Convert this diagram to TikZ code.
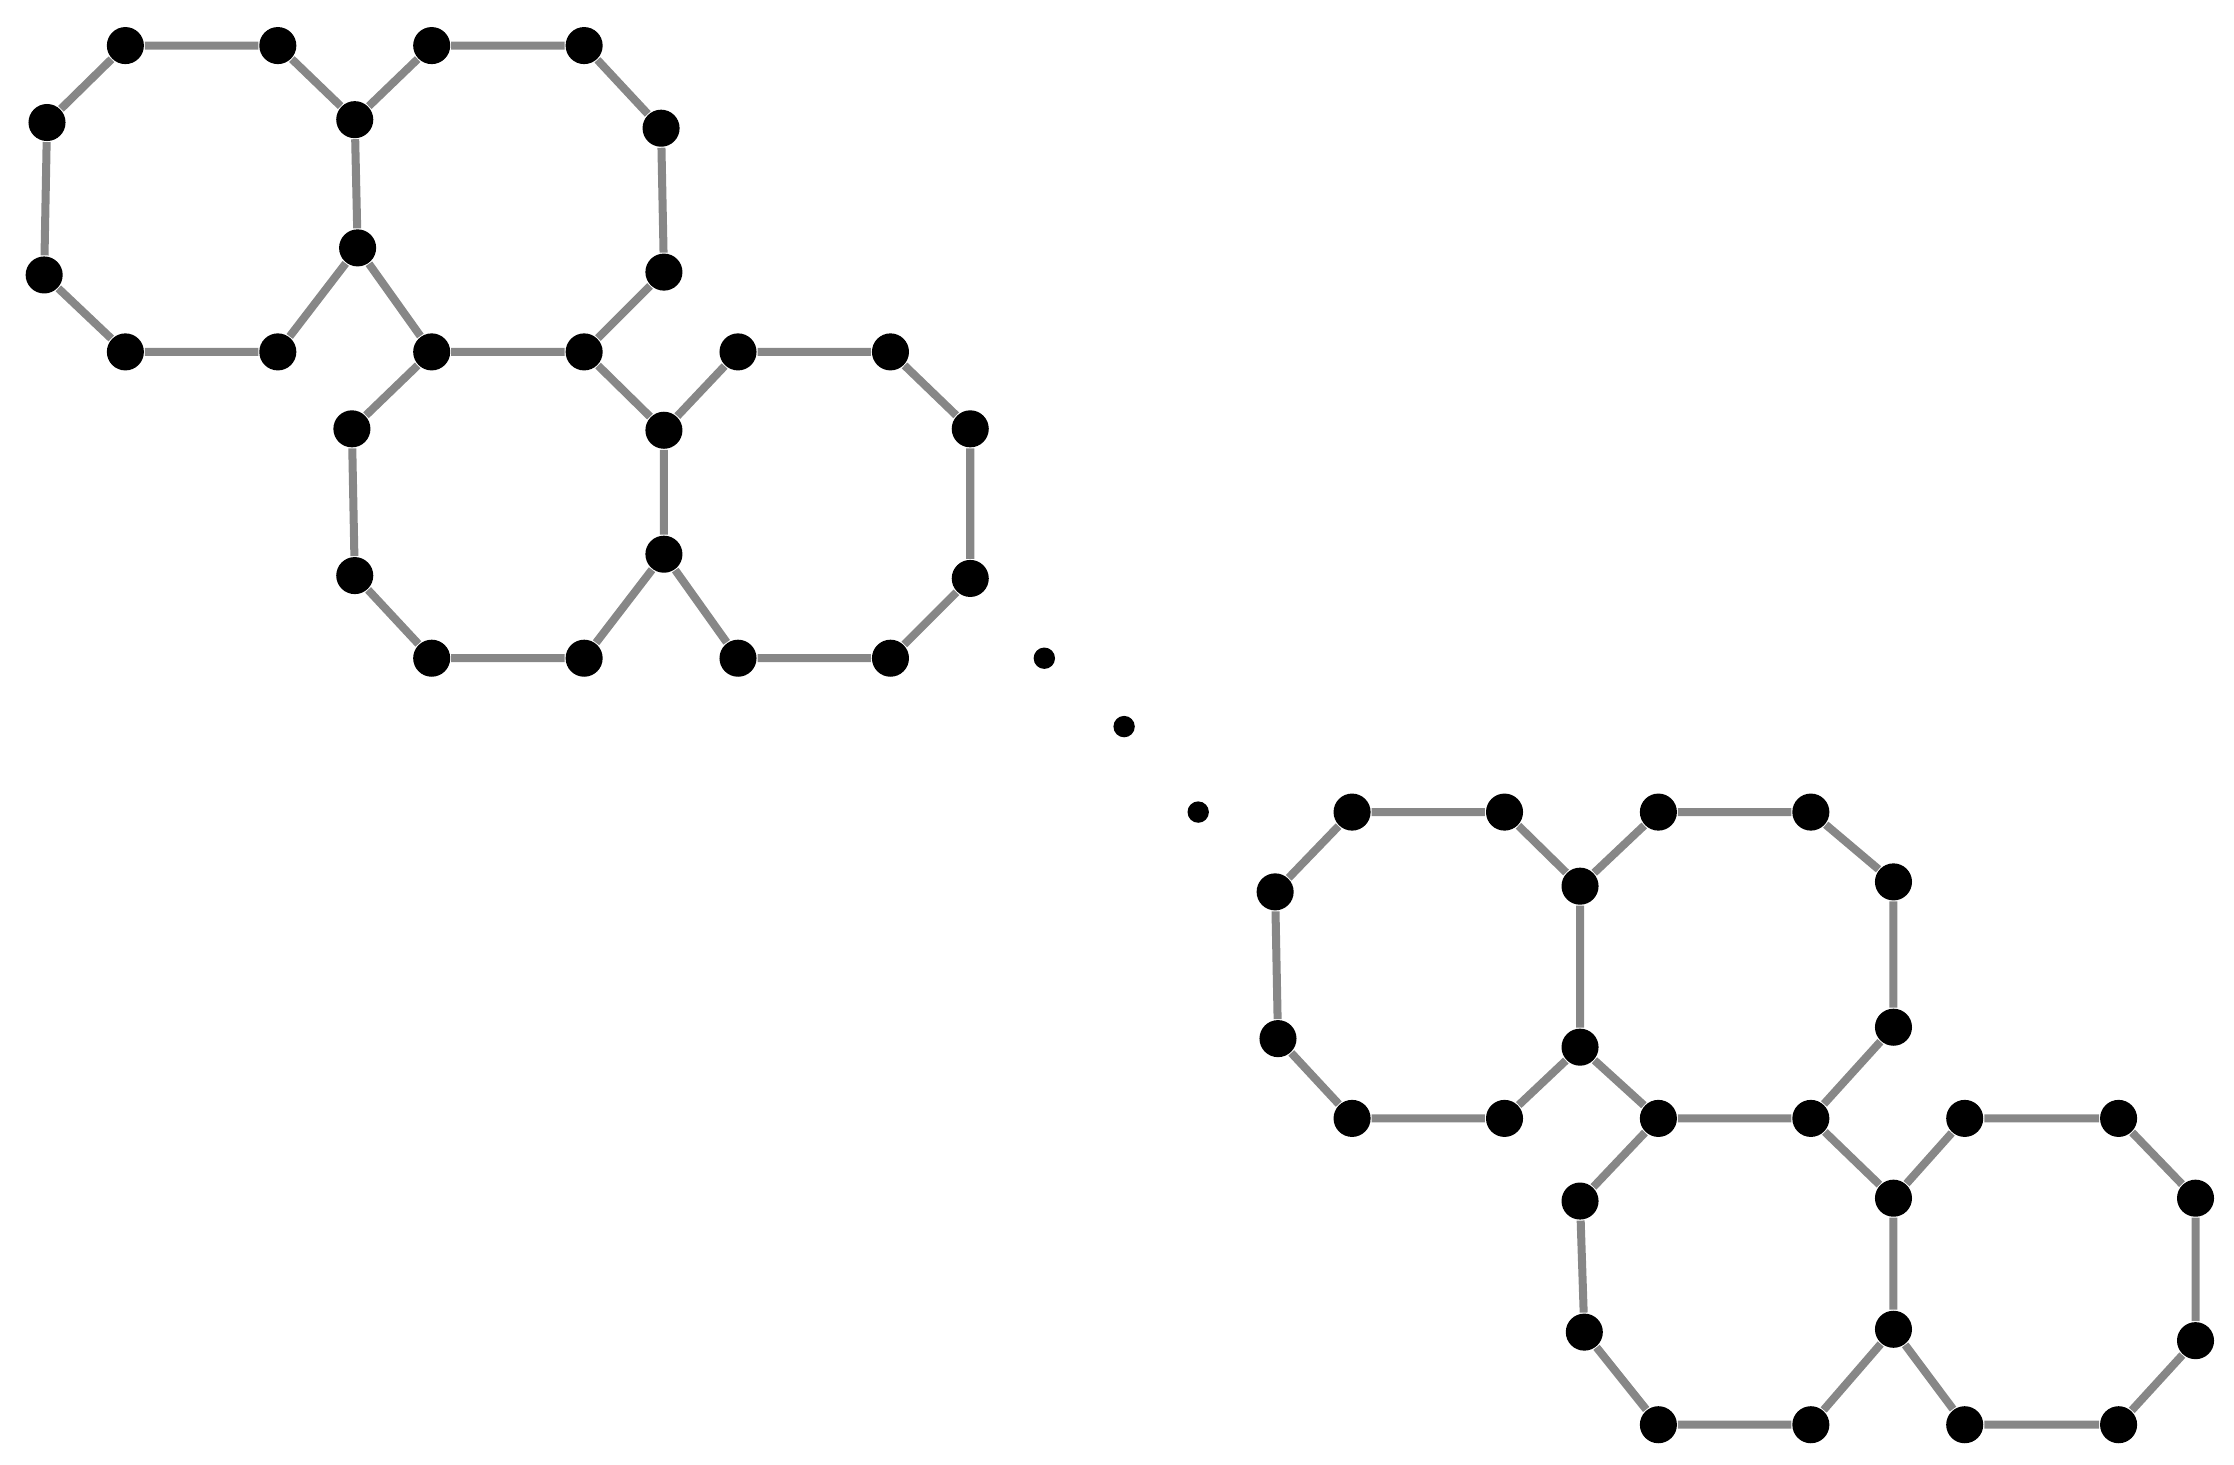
\documentclass[tikz,border=0pt]{standalone}
\begin{document}
\begin{tikzpicture}[x=0.01cm,y=-0.01cm,
  vtx/.style={circle,fill=black,inner sep=0pt,minimum size=0.26cm},
  sdot/.style={circle,fill=black,inner sep=0pt,minimum size=0.15cm},
  edge/.style={draw=black!47,line width=1.6pt}]
\useasboundingbox (0,0) rectangle (1568,1028);
% top-left cluster
\node[vtx] (a1) at (88,32) {};
\node[vtx] (a2) at (195,32) {};
\node[vtx] (a3) at (249,84) {};
\node[vtx] (a4) at (251,174) {};
\node[vtx] (a5) at (195,247) {};
\node[vtx] (a6) at (88,247) {};
\node[vtx] (a7) at (31,193) {};
\node[vtx] (a8) at (33,86) {};
\node[vtx] (b1) at (303,32) {};
\node[vtx] (b2) at (410,32) {};
\node[vtx] (b3) at (464,90) {};
\node[vtx] (b4) at (466,191) {};
\node[vtx] (b5) at (410,247) {};
\node[vtx] (b6) at (303,247) {};
\node[vtx] (c1) at (466,302) {};
\node[vtx] (c2) at (466,389) {};
\node[vtx] (c3) at (410,462) {};
\node[vtx] (c4) at (303,462) {};
\node[vtx] (c5) at (249,404) {};
\node[vtx] (c6) at (247,301) {};
\node[vtx] (d1) at (518,247) {};
\node[vtx] (d2) at (625,247) {};
\node[vtx] (d3) at (681,301) {};
\node[vtx] (d4) at (681,406) {};
\node[vtx] (d5) at (625,462) {};
\node[vtx] (d6) at (518,462) {};
% dots
\node[sdot] (s1) at (733,462) {};
\node[sdot] (s2) at (789,510) {};
\node[sdot] (s3) at (841,570) {};
% bottom-right cluster
\node[vtx] (e1) at (949,570) {};
\node[vtx] (e2) at (1056,570) {};
\node[vtx] (e3) at (1109,622) {};
\node[vtx] (e4) at (1109,735) {};
\node[vtx] (e5) at (1056,785) {};
\node[vtx] (e6) at (949,785) {};
\node[vtx] (e7) at (897,729) {};
\node[vtx] (e8) at (895,626) {};
\node[vtx] (f1) at (1164,570) {};
\node[vtx] (f2) at (1271,570) {};
\node[vtx] (f3) at (1329,619) {};
\node[vtx] (f4) at (1329,721) {};
\node[vtx] (f5) at (1271,785) {};
\node[vtx] (f6) at (1164,785) {};
\node[vtx] (g1) at (1329,841) {};
\node[vtx] (g2) at (1329,933) {};
\node[vtx] (g3) at (1271,1000) {};
\node[vtx] (g4) at (1164,1000) {};
\node[vtx] (g5) at (1112,935) {};
\node[vtx] (g6) at (1109,843) {};
\node[vtx] (h1) at (1379,785) {};
\node[vtx] (h2) at (1487,785) {};
\node[vtx] (h3) at (1541,841) {};
\node[vtx] (h4) at (1541,941) {};
\node[vtx] (h5) at (1487,1000) {};
\node[vtx] (h6) at (1379,1000) {};
% edges
\path[edge] (a1)--(a2) (a2)--(a3) (a3)--(a4) (a4)--(a5) (a5)--(a6) (a6)--(a7) (a7)--(a8) (a8)--(a1);
\path[edge] (a3)--(b1) (b1)--(b2) (b2)--(b3) (b3)--(b4) (b4)--(b5) (b5)--(b6) (b6)--(a4);
\path[edge] (b5)--(c1) (c1)--(c2) (c2)--(c3) (c3)--(c4) (c4)--(c5) (c5)--(c6) (c6)--(b6);
\path[edge] (c1)--(d1) (d1)--(d2) (d2)--(d3) (d3)--(d4) (d4)--(d5) (d5)--(d6) (d6)--(c2);
\path[edge] (e1)--(e2) (e2)--(e3) (e3)--(e4) (e4)--(e5) (e5)--(e6) (e6)--(e7) (e7)--(e8) (e8)--(e1);
\path[edge] (e3)--(f1) (f1)--(f2) (f2)--(f3) (f3)--(f4) (f4)--(f5) (f5)--(f6) (f6)--(e4);
\path[edge] (f5)--(g1) (g1)--(g2) (g2)--(g3) (g3)--(g4) (g4)--(g5) (g5)--(g6) (g6)--(f6);
\path[edge] (g1)--(h1) (h1)--(h2) (h2)--(h3) (h3)--(h4) (h4)--(h5) (h5)--(h6) (h6)--(g2);
\end{tikzpicture}
\end{document}
